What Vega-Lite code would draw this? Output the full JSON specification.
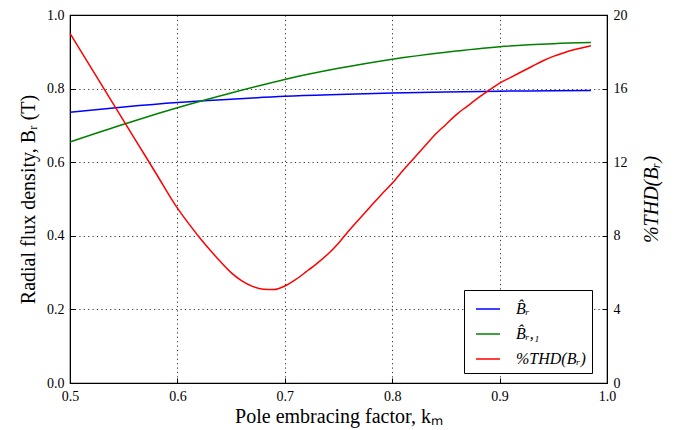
{
  "$schema": "https://vega.github.io/schema/vega-lite/v6.json",
  "width": 537,
  "height": 368,
  "autosize": {"type": "none"},
  "padding": {"left": 70, "top": 15, "right": 87, "bottom": 47},
  "background": "white",
  "config": {
    "view": {"stroke": "black", "strokeWidth": 1.2},
    "font": "Liberation Serif",
    "axis": {
      "labelFont": "Liberation Serif",
      "titleFont": "Liberation Serif",
      "labelFontSize": 14,
      "titleFontSize": 20,
      "titleFontWeight": "normal",
      "labelColor": "black",
      "titleColor": "black",
      "domainColor": "black",
      "tickColor": "black",
      "tickSize": -5,
      "labelPadding": 11,
      "labelFlush": false,
      "labelOverlap": false,
      "gridColor": "black",
      "gridDash": [1.2, 3.2],
      "gridWidth": 0.8,
      "gridOpacity": 1
    },
    "legend": {
      "orient": "none",
      "legendX": 394,
      "legendY": 275,
      "strokeColor": "black",
      "fillColor": "white",
      "padding": 6,
      "symbolType": "stroke",
      "symbolSize": 576,
      "symbolStrokeWidth": 1.5,
      "symbolOffset": 5,
      "labelFont": "Liberation Serif",
      "labelFontStyle": "italic",
      "labelFontSize": 16,
      "labelColor": "black",
      "rowPadding": 4,
      "labelOffset": 15,
      "labelLimit": 200
    }
  },
  "data": {
    "values": [
      {"k": 0.5, "s": "B̂ᵣ", "v": 0.736},
      {"k": 0.55, "s": "B̂ᵣ", "v": 0.750},
      {"k": 0.6, "s": "B̂ᵣ", "v": 0.762},
      {"k": 0.65, "s": "B̂ᵣ", "v": 0.771},
      {"k": 0.7, "s": "B̂ᵣ", "v": 0.779},
      {"k": 0.75, "s": "B̂ᵣ", "v": 0.784},
      {"k": 0.8, "s": "B̂ᵣ", "v": 0.788},
      {"k": 0.85, "s": "B̂ᵣ", "v": 0.791},
      {"k": 0.9, "s": "B̂ᵣ", "v": 0.793},
      {"k": 0.95, "s": "B̂ᵣ", "v": 0.794},
      {"k": 0.985, "s": "B̂ᵣ", "v": 0.795},
      {"k": 0.5, "s": "B̂ᵣ,₁", "v": 0.655},
      {"k": 0.55, "s": "B̂ᵣ,₁", "v": 0.703},
      {"k": 0.6, "s": "B̂ᵣ,₁", "v": 0.748},
      {"k": 0.65, "s": "B̂ᵣ,₁", "v": 0.788},
      {"k": 0.7, "s": "B̂ᵣ,₁", "v": 0.825},
      {"k": 0.75, "s": "B̂ᵣ,₁", "v": 0.855},
      {"k": 0.8, "s": "B̂ᵣ,₁", "v": 0.880},
      {"k": 0.85, "s": "B̂ᵣ,₁", "v": 0.899},
      {"k": 0.9, "s": "B̂ᵣ,₁", "v": 0.914},
      {"k": 0.95, "s": "B̂ᵣ,₁", "v": 0.922},
      {"k": 0.985, "s": "B̂ᵣ,₁", "v": 0.925},
      {"k": 0.5, "s": "%THD(Bᵣ)", "v": 19.0},
      {"k": 0.52, "s": "%THD(Bᵣ)", "v": 17.1},
      {"k": 0.54, "s": "%THD(Bᵣ)", "v": 15.2},
      {"k": 0.56, "s": "%THD(Bᵣ)", "v": 13.3},
      {"k": 0.58, "s": "%THD(Bᵣ)", "v": 11.4},
      {"k": 0.6, "s": "%THD(Bᵣ)", "v": 9.5},
      {"k": 0.61, "s": "%THD(Bᵣ)", "v": 8.7},
      {"k": 0.62, "s": "%THD(Bᵣ)", "v": 7.95},
      {"k": 0.63, "s": "%THD(Bᵣ)", "v": 7.25},
      {"k": 0.64, "s": "%THD(Bᵣ)", "v": 6.6},
      {"k": 0.65, "s": "%THD(Bᵣ)", "v": 6.0},
      {"k": 0.66, "s": "%THD(Bᵣ)", "v": 5.55},
      {"k": 0.67, "s": "%THD(Bᵣ)", "v": 5.25},
      {"k": 0.68, "s": "%THD(Bᵣ)", "v": 5.1},
      {"k": 0.69, "s": "%THD(Bᵣ)", "v": 5.08},
      {"k": 0.7, "s": "%THD(Bᵣ)", "v": 5.27},
      {"k": 0.71, "s": "%THD(Bᵣ)", "v": 5.62},
      {"k": 0.72, "s": "%THD(Bᵣ)", "v": 6.05},
      {"k": 0.73, "s": "%THD(Bᵣ)", "v": 6.5},
      {"k": 0.74, "s": "%THD(Bᵣ)", "v": 7.0},
      {"k": 0.75, "s": "%THD(Bᵣ)", "v": 7.6},
      {"k": 0.76, "s": "%THD(Bᵣ)", "v": 8.3},
      {"k": 0.77, "s": "%THD(Bᵣ)", "v": 8.95},
      {"k": 0.78, "s": "%THD(Bᵣ)", "v": 9.6},
      {"k": 0.79, "s": "%THD(Bᵣ)", "v": 10.25},
      {"k": 0.8, "s": "%THD(Bᵣ)", "v": 10.85},
      {"k": 0.81, "s": "%THD(Bᵣ)", "v": 11.55},
      {"k": 0.82, "s": "%THD(Bᵣ)", "v": 12.2},
      {"k": 0.83, "s": "%THD(Bᵣ)", "v": 12.85},
      {"k": 0.84, "s": "%THD(Bᵣ)", "v": 13.5},
      {"k": 0.85, "s": "%THD(Bᵣ)", "v": 14.05},
      {"k": 0.86, "s": "%THD(Bᵣ)", "v": 14.6},
      {"k": 0.87, "s": "%THD(Bᵣ)", "v": 15.05},
      {"k": 0.88, "s": "%THD(Bᵣ)", "v": 15.5},
      {"k": 0.89, "s": "%THD(Bᵣ)", "v": 15.9},
      {"k": 0.9, "s": "%THD(Bᵣ)", "v": 16.3},
      {"k": 0.91, "s": "%THD(Bᵣ)", "v": 16.6},
      {"k": 0.92, "s": "%THD(Bᵣ)", "v": 16.9},
      {"k": 0.93, "s": "%THD(Bᵣ)", "v": 17.2},
      {"k": 0.94, "s": "%THD(Bᵣ)", "v": 17.5},
      {"k": 0.95, "s": "%THD(Bᵣ)", "v": 17.75},
      {"k": 0.96, "s": "%THD(Bᵣ)", "v": 17.95},
      {"k": 0.97, "s": "%THD(Bᵣ)", "v": 18.12},
      {"k": 0.985, "s": "%THD(Bᵣ)", "v": 18.33}
    ]
  },
  "encoding": {
    "x": {
      "field": "k",
      "type": "quantitative",
      "scale": {"domain": [0.5, 1.0], "nice": false},
      "axis": {
        "title": "Pole embracing factor, kₘ",
        "values": [0.5, 0.6, 0.7, 0.8, 0.9, 1.0],
        "format": ".1f",
        "grid": true,
        "labelFont": "Liberation Serif",
        "titlePadding": 3
      }
    },
    "color": {
      "field": "s",
      "type": "nominal",
      "scale": {"domain": ["B̂ᵣ", "B̂ᵣ,₁", "%THD(Bᵣ)"], "range": ["#0000ff", "#008000", "#ff0000"]},
      "legend": {"title": null}
    }
  },
  "layer": [
    {
      "transform": [{"filter": "datum.s !== '%THD(Bᵣ)'"}],
      "mark": {"type": "line", "strokeWidth": 1.5, "interpolate": "monotone"},
      "encoding": {
        "y": {
          "field": "v",
          "type": "quantitative",
          "scale": {"domain": [0, 1], "nice": false},
          "axis": {
            "title": "Radial flux density, Bᵣ (T)",
            "values": [0, 0.2, 0.4, 0.6, 0.8, 1.0],
            "format": ".1f",
            "grid": true,
            "labelFont": "Liberation Serif",
            "titlePadding": 8
          }
        }
      }
    },
    {
      "transform": [{"filter": "datum.s === '%THD(Bᵣ)'"}],
      "mark": {"type": "line", "strokeWidth": 1.5, "interpolate": "monotone"},
      "encoding": {
        "y": {
          "field": "v",
          "type": "quantitative",
          "scale": {"domain": [0, 20], "nice": false},
          "axis": {
            "orient": "right",
            "title": "%THD(Bᵣ)",
            "titleFontStyle": "italic",
            "titleAngle": 270,
            "values": [0, 4, 8, 12, 16, 20],
            "grid": false,
            "labelFont": "Liberation Serif",
            "titlePadding": 34
          }
        }
      }
    }
  ],
  "resolve": {"scale": {"y": "independent"}}
}
